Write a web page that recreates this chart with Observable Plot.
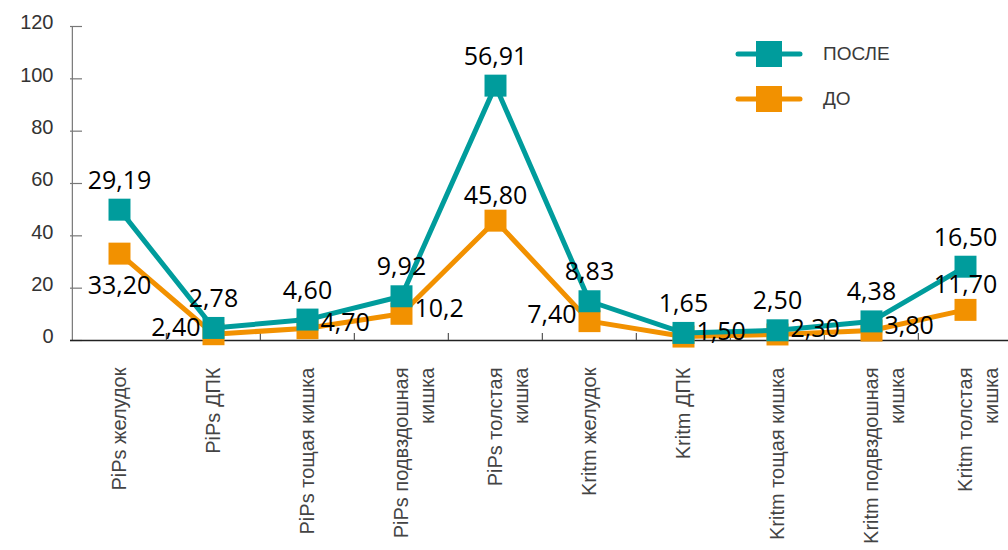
<!DOCTYPE html>
<html>
<head>
<meta charset="utf-8">
<script src="https://cdn.jsdelivr.net/npm/d3@7"></script>
<script src="https://cdn.jsdelivr.net/npm/@observablehq/plot@0.6"></script>
<style>
  html, body { margin: 0; padding: 0; background: #fff; }
  #chart { position: relative; width: 1008px; height: 550px; overflow: hidden; }
  .legend { position: absolute; left: 735px; top: 31px; font-family: "Liberation Sans", Arial, sans-serif; font-size: 19px; color: #3a3a3a; }
  .legend .item { display: flex; align-items: center; height: 45px; }
  .legend svg { margin-right: 20px; }
</style>
</head>
<body>
<div id="chart"></div>
<script>
// ---- data ----
const categories = [
  "PiPs желудок", "PiPs ДПК", "PiPs тощая кишка", "PiPs подвздошная\nкишка", "PiPs толстая\nкишка",
  "Kritm желудок", "Kritm ДПК", "Kritm тощая кишка", "Kritm подвздошная\nкишка", "Kritm толстая\nкишка"
];
const seriesNames = ["ПОСЛЕ", "ДО"];
const posleValues = [50.0, 4.8, 8.0, 16.9, 97.4, 15.0, 2.9, 3.9, 7.3, 28.2];
const doValues    = [33.2, 2.4, 4.7, 10.2, 45.8, 7.4, 1.5, 2.3, 3.8, 11.7];
const posleLabels = ["29,19", "2,78", "4,60", "9,92", "56,91", "8,83", "1,65", "2,50", "4,38", "16,50"];
const doLabels    = ["33,20", "2,40", "4,70", "10,2", "45,80", "7,40", "1,50", "2,30", "3,80", "11,70"];
const doLabelSide = ["below", "left", "right", "right", "above", "left", "right", "right", "right", "above"];
const yTicks = [0, 20, 40, 60, 80, 100, 120];

// ---- style ----
const TEAL = "#009c9c";
const ORANGE = "#f29100";
const W = 1008, H = 550, ML = 70, MT = 26, MB = 210;
const X0 = 70, X1 = 1013;
const BW = (X1 - X0) / categories.length;

const posle = categories.map((c, i) => ({cat: c, value: posleValues[i], label: posleLabels[i]}));
const before = categories.map((c, i) => ({cat: c, value: doValues[i], label: doLabels[i], side: doLabelSide[i]}));

const labelFont = {fontFamily: "'Open Sans', 'Noto Sans', sans-serif", fontSize: 25, fill: "#000"};
const sideOpts = {
  above: {dy: -25, textAnchor: "middle"},
  below: {dy: 32, textAnchor: "middle"},
  left:  {dx: -13, dy: -6, textAnchor: "end"},
  right: {dx: 13, dy: -5, textAnchor: "start"}
};

const chart = Plot.plot({
  width: W, height: H,
  marginLeft: ML, marginRight: 0, marginTop: MT, marginBottom: MB,
  style: {fontFamily: "'Liberation Sans', Arial, sans-serif", background: "white", color: "#333", overflow: "visible"},
  x: {type: "point", domain: categories, range: [X0, X1], padding: 0.5, axis: null, label: null},
  y: {domain: [0, 120], axis: null, label: null},
  marks: [
    // y axis line + inward ticks
    Plot.ruleX([categories[0]], {dx: -BW / 2, y1: 0, y2: 120, stroke: "#777", strokeWidth: 1.2}),
    Plot.ruleY(yTicks, {y: d => d, stroke: "#777", strokeWidth: 1.2, insetRight: W - 82}),
    Plot.axisY({ticks: yTicks, tickSize: 0, tickPadding: 17, dy: -3.5, fontSize: 20, fill: "#333", label: null}),
    // x axis line + boundary ticks
    Plot.ruleY([0], {stroke: "#222", strokeWidth: 1.3}),
    Plot.ruleX(categories.slice(1), {x: d => d, dx: -BW / 2, insetTop: (H - MB - MT) - 7, stroke: "#555", strokeWidth: 1.2}),
    // category labels (first line centred on the category, second line to its right)
    Plot.axisX({tickSize: 0, tickPadding: 27, tickRotate: -90, fontSize: 20, fill: "#444", label: null,
      tickFormat: d => d.split("\n")[0]}),
    Plot.axisX({tickSize: 0, tickPadding: 27, tickRotate: -90, fontSize: 20, fill: "#444", dx: 26, label: null,
      tickFormat: d => d.split("\n")[1] || ""}),
    // series
    Plot.line(before, {x: "cat", y: "value", stroke: ORANGE, strokeWidth: 5, strokeLinejoin: "miter"}),
    Plot.dot(before, {x: "cat", y: "value", symbol: "square", r: 12.4, fill: ORANGE, stroke: null}),
    Plot.line(posle, {x: "cat", y: "value", stroke: TEAL, strokeWidth: 5, strokeLinejoin: "miter"}),
    Plot.dot(posle, {x: "cat", y: "value", symbol: "square", r: 12.4, fill: TEAL, stroke: null}),
    // value labels
    Plot.text(posle, {x: "cat", y: "value", text: "label", dy: -29, ...labelFont}),
    ...Object.entries(sideOpts).map(([side, o]) =>
      Plot.text(before.filter(d => d.side === side), {x: "cat", y: "value", text: "label", ...o, ...labelFont}))
  ]
});

const root = document.getElementById("chart");
root.appendChild(chart);

// legend
const legend = document.createElement("div");
legend.className = "legend";
[[seriesNames[0], TEAL], [seriesNames[1], ORANGE]].forEach(([name, color]) => {
  const item = document.createElement("div");
  item.className = "item";
  item.innerHTML = `<svg width="68" height="28" viewBox="0 0 68 28">
      <line x1="3" y1="14" x2="65" y2="14" stroke="${color}" stroke-width="5" stroke-linecap="round"/>
      <rect x="21" y="1" width="26" height="26" fill="${color}"/>
    </svg><span>${name}</span>`;
  legend.appendChild(item);
});
root.appendChild(legend);
</script>
</body>
</html>
